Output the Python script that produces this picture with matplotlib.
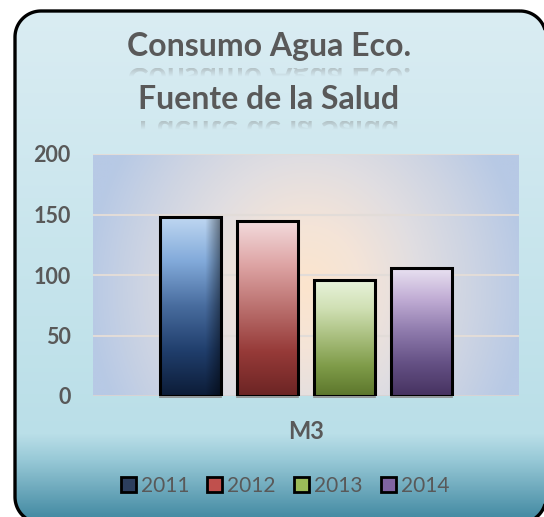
import numpy as np
import matplotlib
matplotlib.use('Agg')
import matplotlib.pyplot as plt
import matplotlib.transforms as mtransforms
from matplotlib.patches import Polygon, PathPatch, Patch
from matplotlib.textpath import TextPath
from matplotlib.font_manager import FontProperties

# data
years = ['2011', '2012', '2013', '2014']
values = [148, 145, 96, 106]
category = 'M3'
title_lines = ['Consumo Agua Eco.', 'Fuente de la Salud']

# gradient stops (top -> bottom) per series
bar_stops = [
    [(192, 216, 242), (130, 170, 218), (72, 108, 158), (32, 62, 108), (12, 28, 55)],
    [(243, 220, 222), (222, 165, 165), (186, 112, 110), (150, 58, 56), (108, 36, 36)],
    [(233, 243, 220), (208, 224, 180), (168, 190, 125), (126, 155, 72), (92, 118, 44)],
    [(234, 227, 242), (192, 172, 212), (142, 122, 172), (100, 80, 132), (70, 50, 96)],
]
legend_colors = ['#2c3e5e', '#c0504d', '#9bbb59', '#8064a2']
text_gray = '#595959'
W, H = 544, 517


def vgrad(stops, n=200):
    stops = np.array(stops, dtype=float) / 255
    pos = np.linspace(0, 1, len(stops))
    t = np.linspace(0, 1, n)
    return np.stack([np.interp(t, pos, stops[:, k]) for k in range(3)], axis=1)


def rounded_rect(left, top, right, bottom, r, n=24):
    # y grows downward here (bg axes is inverted)
    pts = []
    corners = [(right - r, top + r, -90, 0), (right - r, bottom - r, 0, 90),
               (left + r, bottom - r, 90, 180), (left + r, top + r, 180, 270)]
    for cx, cy, a0, a1 in corners:
        a = np.radians(np.linspace(a0, a1, n))
        pts.append(np.column_stack([cx + r * np.cos(a), cy + r * np.sin(a)]))
    return np.vstack(pts)


fig = plt.figure(figsize=(W / 100, H / 100), dpi=100)
fig.patch.set_facecolor('white')

# background with rounded black border
bg = fig.add_axes([0, 0, 1, 1])
bg.set_axis_off()
outline = rounded_rect(15, 11, 546, 523, 26)
frame = Polygon(outline, closed=True, facecolor='none', edgecolor='none')
bg.add_patch(frame)
ys = np.linspace(0, 1, 400)
bg_stops_pos = [0, 0.84, 0.89, 1.0]
bg_stops = np.array([(219, 237, 243), (186, 223, 232), (152, 201, 215), (70, 140, 164)]) / 255
bg_col = np.stack([np.interp(ys, bg_stops_pos, bg_stops[:, k]) for k in range(3)], axis=1)
bg_img = np.repeat(bg_col[:, None, :], 2, axis=1)
im = bg.imshow(bg_img, extent=[0, W, H, 0], aspect='auto', origin='upper', zorder=0)
im.set_clip_path(frame)
border = Polygon(outline, closed=True, facecolor='none', edgecolor='black',
                 linewidth=2.4, zorder=5)
bg.add_patch(border)

# title with faded reflection
fp = FontProperties(family='Lato', weight='bold')
baselines = [56, 109]
for line, base in zip(title_lines, baselines):
    fig.text(269 / W, 1 - base / H, line, ha='center', va='baseline',
             fontsize=23, fontweight='bold', family='Lato', color=text_gray)
    tp = TextPath((0, 0), line, size=32, prop=fp)
    ext = tp.get_extents()
    x0 = 269 - (ext.x0 + ext.width / 2)
    top = base + 12
    tr = mtransforms.Affine2D().translate(x0, top) + bg.transData
    rp = PathPatch(tp, transform=tr, facecolor='none', edgecolor='none')
    bg.add_patch(rp)
    fade = np.zeros((50, 2, 4))
    fade[..., :3] = 0.5
    fade[..., 3] = np.clip(np.linspace(0.38, -0.5, 50), 0, 1)[:, None]
    rim = bg.imshow(fade, extent=[x0 + ext.x0, x0 + ext.x1, top + 20, top],
                    aspect='auto', origin='upper', zorder=1)
    rim.set_clip_path(rp)
bg.set_xlim(0, W)
bg.set_ylim(H, 0)

# plot area
ax = fig.add_axes([93 / W, 1 - 396 / H, 426 / W, 242 / H])
ax.patch.set_alpha(0)
gx, gy = np.meshgrid(np.linspace(0, 426, 300), np.linspace(0, 242, 200))
rr = np.sqrt(((gx - 214) / 220) ** 2 + ((gy - 133) / 250) ** 2)
pa_pos = [0, 0.25, 0.5, 0.75, 1.0]
pa_stops = np.array([(252, 229, 205), (244, 228, 216), (225, 222, 225),
                     (205, 212, 227), (183, 201, 229)]) / 255
pa_img = np.stack([np.interp(rr, pa_pos, pa_stops[:, k]) for k in range(3)], axis=-1)
ax.imshow(pa_img, extent=[-0.5, 0.5, 0, 200], aspect='auto', origin='upper', zorder=0)

for v in [50, 100, 150, 200]:
    ax.axhline(v, color='#e2dcd8', linewidth=1.5, zorder=1)
ax.axhline(0, color='#d8d4d4', linewidth=1.4, zorder=1)

step = 77 / 426
bw = 61 / 426
offsets = (np.arange(len(years)) - (len(years) - 1) / 2) * step
for i, (yr, val) in enumerate(zip(years, values)):
    bars = ax.bar(offsets[i], val, width=bw, facecolor='none', edgecolor='black',
                  linewidth=2.2, zorder=4, label=yr)
    p = bars[0]
    col = vgrad(bar_stops[i])
    img = np.repeat(col[:, None, :], 60, axis=1)
    if i == 0:
        shade = np.ones(60)
        shade[44:] = np.linspace(1, 0.55, 16)
        img = img * shade[None, :, None]
    gi = ax.imshow(img, extent=[p.get_x(), p.get_x() + p.get_width(), 0, val],
                   aspect='auto', origin='upper', zorder=3)
    gi.set_clip_path(p)
    ax.plot([p.get_x(), p.get_x() + p.get_width()], [-1.2, -1.2], color='#8c8c8c',
            linewidth=1.2, zorder=4, clip_on=False)

ax.set_xlim(-0.5, 0.5)
ax.set_ylim(0, 200)
ax.set_yticks([0, 50, 100, 150, 200])
ax.set_xticks([0])
ax.set_xticklabels([category])
for s in ax.spines.values():
    s.set_visible(False)
ax.tick_params(axis='both', length=0, colors=text_gray)
ax.tick_params(axis='y', pad=16)
ax.tick_params(axis='x', pad=17)
for lab in ax.get_yticklabels():
    lab.set_fontweight('bold')
    lab.set_fontsize(15.5)
    lab.set_family('Lato')
for lab in ax.get_xticklabels():
    lab.set_fontweight('bold')
    lab.set_fontsize(17)
    lab.set_family('Lato')

handles = [Patch(facecolor=c, edgecolor='black', linewidth=2.0) for c in legend_colors]
fig.legend(handles, years, loc='center', bbox_to_anchor=(285 / W, 1 - 486 / H),
           ncol=4, frameon=False, handlelength=0.72, handleheight=0.72,
           handletextpad=0.24, columnspacing=0.87,
           prop=FontProperties(family='Lato', size=15), labelcolor=text_gray)

fig.savefig('out.png', dpi=100)
